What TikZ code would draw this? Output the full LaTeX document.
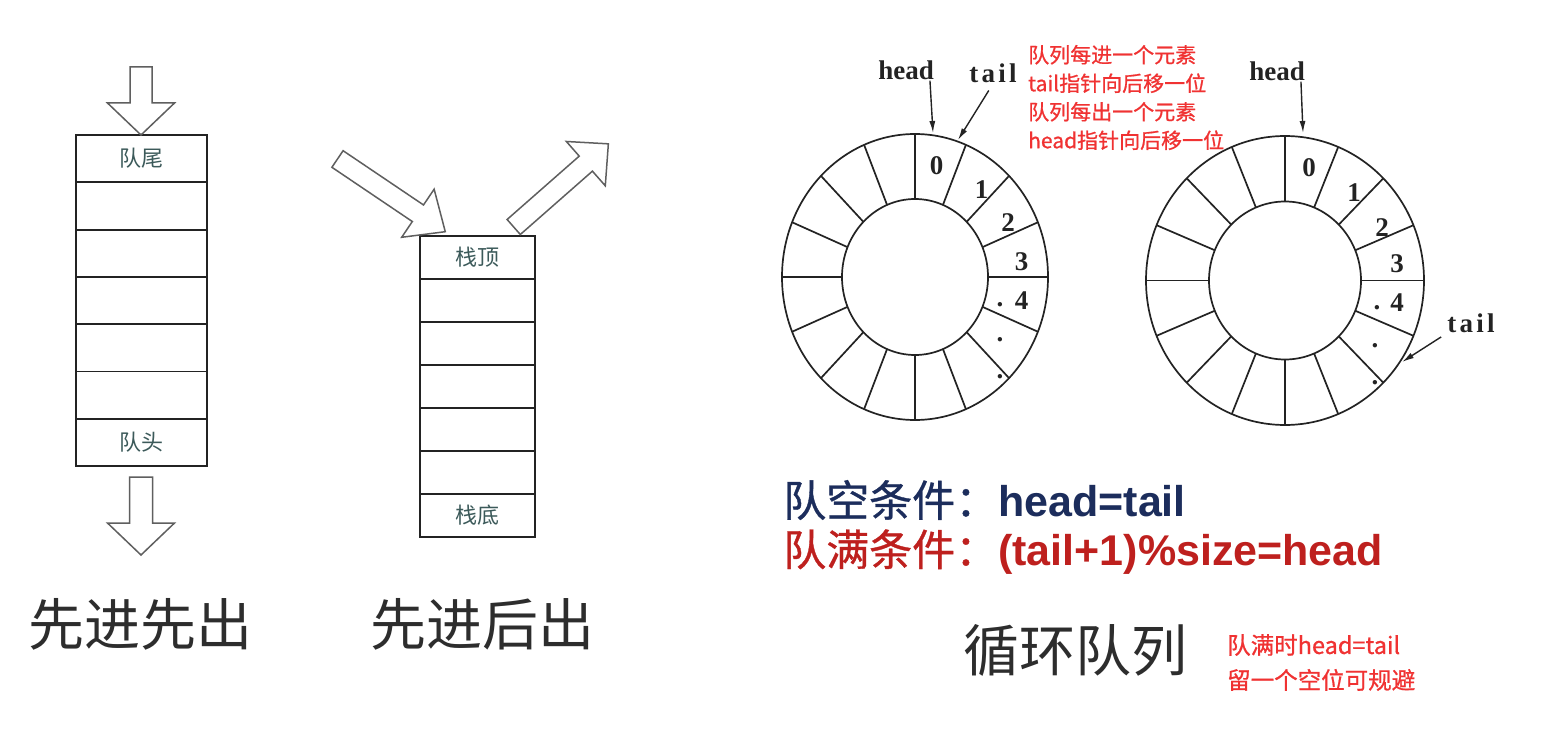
\documentclass[tikz,border=0pt]{standalone}
\usepackage{fontspec}
\setmainfont{Liberation Serif}
\newfontfamily\cjk{Noto Sans CJK SC}
\newfontfamily\cjkb{Noto Sans CJK SC}[FakeBold=0.8]
\newfontfamily\arial{Liberation Sans}
\newfontfamily\spacedserif{Liberation Serif}[LetterSpace=12]
\usetikzlibrary{arrows.meta}
\definecolor{linec}{RGB}{35,35,35}
\definecolor{arrc}{RGB}{95,95,95}
\definecolor{labc}{RGB}{60,90,90}
\definecolor{notered}{RGB}{240,50,50}
\definecolor{navy}{RGB}{28,45,92}
\definecolor{darkred}{RGB}{190,32,30}
\definecolor{titlec}{RGB}{45,45,45}
\tikzset{
  blockarrow/.style={draw=arrc, fill=white, line width=1.5pt, line join=miter},
  qcell/.style={draw=linec, line width=1.9pt, minimum width=131pt, minimum height=47.3pt, inner sep=0pt, text=labc, font=\cjk\fontsize{22}{22}\selectfont},
  scell/.style={draw=linec, line width=1.9pt, minimum width=115pt, minimum height=43pt, inner sep=0pt, text=labc, font=\cjk\fontsize{22}{22}\selectfont},
  ringline/.style={draw=linec, line width=1.7pt},
  num/.style={inner sep=0pt, text=linec, font=\bfseries\fontsize{27}{27}\selectfont},
  dotlbl/.style={inner sep=0pt, anchor=base, text=linec, font=\bfseries\fontsize{27}{27}\selectfont},
  ptrlbl/.style={inner sep=1pt, text=linec, font=\bfseries\fontsize{27}{27}\selectfont},
  taillbl/.style={inner sep=1pt, text=linec, font=\spacedserif\bfseries\fontsize{27}{27}\selectfont},
  ptr/.style={draw=linec, line width=1.4pt, -{Latex[length=12pt,width=6pt]}},
  title/.style={inner sep=0pt, text=titlec, font=\cjk\fontsize{56}{56}\selectfont},
  note/.style={inner sep=0pt, anchor=west, align=left, text=notered},
  cond/.style={inner sep=0pt, anchor=west}
}
\newcommand\blockarr[6]{%
  \begin{scope}[shift={#1},rotate=#2]
    \draw[blockarrow] (0,-#4) -- ({#3-#6},-#4) -- ({#3-#6},-#5) -- (#3,0) -- ({#3-#6},#5) -- ({#3-#6},#4) -- (0,#4) -- cycle;
  \end{scope}}
\begin{document}
\begin{tikzpicture}[x=1pt,y=-1pt]
\useasboundingbox[fill=white] (0,0) rectangle (1561,730);

% ---------------- queue (FIFO)
\foreach \i in {1,...,7} {
  \node[qcell] (q\i) at (141.5,{135+47.3*(\i-0.5)}) {};
}
\node[text=labc, font=\cjk\fontsize{22}{22}\selectfont] (qtail) at (q1) {队尾};
\node[text=labc, font=\cjk\fontsize{22}{22}\selectfont] (qhead) at (q7) {队头};
\blockarr{(141,67)}{-90}{68}{11}{33.5}{32}
\blockarr{(141,477)}{-90}{78}{11.5}{33.5}{32}
\node[title] (t1) at (140,624) {先进先出};

% ---------------- stack (FILO)
\foreach \i in {1,...,7} {
  \node[scell] (s\i) at (477.5,{236+43*(\i-0.5)}) {};
}
\node[text=labc, font=\cjk\fontsize{22}{22}\selectfont] (stop) at (s1) {栈顶};
\node[text=labc, font=\cjk\fontsize{22}{22}\selectfont] (sbot) at (s7) {栈底};
\blockarr{(337.5,159)}{-34}{130}{10}{29}{33}
\blockarr{(513.7,227)}{41.3}{126}{10}{29.5}{30}
\node[title] (t2) at (482,624) {先进后出};

% ---------------- ring 1
\begin{scope}[shift={(915,277)}]
  \draw[ringline] (0,0) ellipse [x radius=133pt, y radius=143pt];
  \draw[ringline] (0,0) ellipse [x radius=73pt, y radius=78pt];
  \foreach \a in {0,22.5,...,337.5}
    \draw[ringline] (\a:73pt and 78pt) -- (\a:133pt and 143pt);
\end{scope}
\node[num] (a0) at (936.7,166) {0};
\node[num] (a1) at (981.7,190) {1};
\node[num] (a2) at (1008,223) {2};
\node[num] (a3) at (1021.7,262) {3};
\node[num] (a4) at (1021.7,301) {4};
\node[dotlbl] (ad1) at (1000,306) {.};
\node[dotlbl] (ad2) at (1000,341) {.};
\node[dotlbl] (ad3) at (1000,378) {.};
\node[ptrlbl] (h1) at (906,70) {head};
\node[taillbl] (tl1) at (993,73) {tail};
\coordinate (h1t) at (933,133);
\coordinate (t1t) at (958,140);
\draw[ptr] ([xshift=-5pt]h1.south east) -- (h1t);
\draw[ptr, shorten <=8pt] (tl1.south) -- (t1t);

% ---------------- ring 2
\begin{scope}[shift={(1285,280.5)}]
  \draw[ringline] (0,0) ellipse [x radius=139pt, y radius=144.5pt];
  \draw[ringline] (0,0) ellipse [x radius=76pt, y radius=79pt];
  \foreach \a in {0,22.5,...,337.5}
    \draw[ringline] (\a:76pt and 79pt) -- (\a:139pt and 144.5pt);
\end{scope}
\node[num] (b0) at (1309,168) {0};
\node[num] (b1) at (1354,193) {1};
\node[num] (b2) at (1382,228) {2};
\node[num] (b3) at (1397,264) {3};
\node[num] (b4) at (1397,303) {4};
\node[dotlbl] (bd1) at (1377,309) {.};
\node[dotlbl] (bd2) at (1375,347) {.};
\node[dotlbl] (bd3) at (1375,384) {.};
\node[ptrlbl] (h2) at (1277,71) {head};
\node[taillbl] (tl2) at (1471,323) {tail};
\coordinate (h2t) at (1303,133);
\coordinate (t2t) at (1402,362);
\draw[ptr] ([xshift=-5pt]h2.south east) -- (h2t);
\draw[ptr, shorten <=6pt] (tl2.south west) -- (t2t);

% ---------------- notes
\node[note, font=\cjkb\fontsize{21}{28.5}\selectfont] (n1) at (1028,97.5)
  {队列每进一个元素\\tail指针向后移一位\\队列每出一个元素\\head指针向后移一位};
\node[cond, text=navy] (c1) at (783,500)
  {\cjkb\fontsize{43}{43}\selectfont 队空条件：\arial\bfseries head=tail};
\node[cond, text=darkred] (c2) at (783,552)
  {\cjkb\fontsize{43}{43}\selectfont 队满条件：\arial\bfseries (tail+1)\%size=head};
\node[title] (t3) at (1075,650) {循环队列};
\node[note, font=\cjkb\fontsize{23.5}{35}\selectfont] (n2) at (1227,662.5)
  {队满时head=tail\\留一个空位可规避};
\end{tikzpicture}
\end{document}
